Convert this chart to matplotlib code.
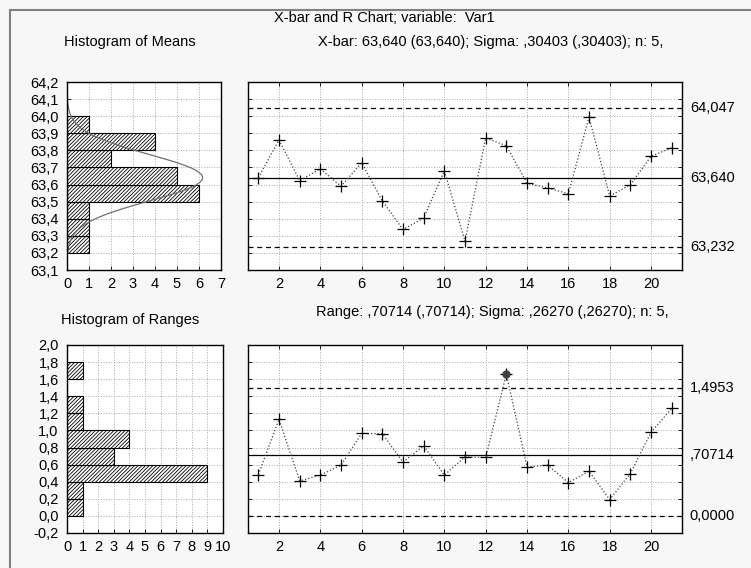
import matplotlib.pyplot as plt
import numpy as np
from matplotlib.lines import Line2D
from matplotlib.ticker import FuncFormatter

plt.rcParams['font.family'] = ['Liberation Sans', 'DejaVu Sans']
plt.rcParams['font.size'] = 10.5
plt.rcParams['hatch.linewidth'] = 0.6

samples = np.arange(1, 22)
means = [63.640, 63.861, 63.623, 63.692, 63.590, 63.727, 63.504, 63.337, 63.404, 63.680, 63.269,
         63.873, 63.827, 63.608, 63.580, 63.546, 63.995, 63.533, 63.598, 63.765, 63.815]
ranges = [0.484, 1.129, 0.410, 0.477, 0.594, 0.965, 0.961, 0.629, 0.820, 0.477, 0.691,
          0.684, 1.660, 0.574, 0.594, 0.390, 0.523, 0.191, 0.496, 0.977, 1.258]

mean_bins = [63.2, 63.3, 63.4, 63.5, 63.6, 63.7, 63.8, 63.9]
mean_counts = [1, 1, 1, 6, 5, 2, 4, 1]
range_bins = [0.0, 0.2, 0.4, 0.6, 0.8, 1.0, 1.2, 1.4, 1.6]
range_counts = [1, 1, 9, 3, 4, 1, 1, 0, 1]

xbar_center, xbar_ucl, xbar_lcl = 63.640, 64.047, 63.232
r_center, r_ucl, r_lcl = 0.70714, 1.4953, 0.0
sigma, n = 0.30403, 5

W, H = 751, 568
fig = plt.figure(figsize=(W / 100, H / 100), dpi=100, facecolor='#f7f7f7')


def box(x0, y0, x1, y1):
    return [x0 / W, 1 - y1 / H, (x1 - x0) / W, (y1 - y0) / H]


comma = FuncFormatter(lambda v, p: ('%.1f' % v).replace('.', ','))
grid_kw = dict(color='#a8a8a8', linestyle=':', linewidth=0.7)


def style(ax):
    ax.set_facecolor('white')
    for s in ax.spines.values():
        s.set_linewidth(1.0)
    ax.grid(True, **grid_kw)
    ax.set_axisbelow(True)
    ax.tick_params(direction='in', length=3, width=0.6, colors='black')
    ax.tick_params(axis='y', pad=6)
    ax.tick_params(axis='x', pad=5)


# histogram of means
ax1 = fig.add_axes(box(67, 82, 221, 270))
style(ax1)
ax1.barh(mean_bins, mean_counts, height=0.1, align='edge', color='white',
         edgecolor='black', hatch='/////////', linewidth=0.8)
yy = np.linspace(63.2, 64.1, 200)
s_mean = sigma / np.sqrt(n)
curve = len(means) * 0.1 * np.exp(-0.5 * ((yy - xbar_center) / s_mean) ** 2) / (s_mean * np.sqrt(2 * np.pi))
ax1.plot(curve, yy, color='#707070', lw=0.9)
ax1.set_xlim(0, 7)
ax1.set_ylim(63.1, 64.2)
ax1.set_xticks(range(0, 8))
ax1.set_yticks(np.round(np.arange(63.1, 64.25, 0.1), 1))
ax1.yaxis.set_major_formatter(comma)

# x-bar chart
ax2 = fig.add_axes(box(248, 82, 682, 270))
style(ax2)
ax2.axhline(xbar_center, color='black', lw=0.9)
ax2.axhline(xbar_ucl, color='black', lw=0.9, ls=(0, (4, 3)))
ax2.axhline(xbar_lcl, color='black', lw=0.9, ls=(0, (4, 3)))
ax2.plot(samples, means, color='#404040', ls=':', lw=0.9, marker='+', ms=8, mew=0.9, mec='black')
ax2.set_xlim(0.5, 21.5)
ax2.set_ylim(63.1, 64.2)
ax2.set_xticks(range(2, 21, 2))
ax2.set_yticks(np.arange(63.1, 64.25, 0.1))
ax2.tick_params(labelleft=False, right=True, top=True)
for v in [xbar_ucl, xbar_center, xbar_lcl]:
    ax2.text(1.018, v, ('%.3f' % v).replace('.', ','), transform=ax2.get_yaxis_transform(),
             va='center', ha='left')

# histogram of ranges
ax3 = fig.add_axes(box(67, 345, 223, 533))
style(ax3)
ax3.barh(range_bins, range_counts, height=0.2, align='edge', color='white',
         edgecolor='black', hatch='/////////', linewidth=0.8)
ax3.set_xlim(0, 10)
ax3.set_ylim(-0.2, 2.0)
ax3.set_xticks(range(0, 11))
ax3.set_yticks(np.round(np.arange(-0.2, 2.05, 0.2), 1))
ax3.yaxis.set_major_formatter(comma)

# range chart
ax4 = fig.add_axes(box(248, 345, 682, 533))
style(ax4)
ax4.axhline(r_center, color='black', lw=0.9)
ax4.axhline(r_ucl, color='black', lw=0.9, ls=(0, (4, 3)))
ax4.axhline(r_lcl, color='black', lw=0.9, ls=(0, (4, 3)))
ax4.plot(samples, ranges, color='#404040', ls=':', lw=0.9, marker='+', ms=8, mew=0.9, mec='black')
out = [i for i, r in enumerate(ranges) if r > r_ucl]
ax4.plot(samples[out], np.array(ranges)[out], 'o', color='#404040', ms=5, zorder=5)
ax4.set_xlim(0.5, 21.5)
ax4.set_ylim(-0.2, 2.0)
ax4.set_xticks(range(2, 21, 2))
ax4.set_yticks(np.arange(-0.2, 2.05, 0.2))
ax4.tick_params(labelleft=False, right=True, top=True)
for v, lab in [(r_ucl, '1,4953'), (r_center, ',70714'), (r_lcl, '0,0000')]:
    ax4.text(1.018, v, lab, transform=ax4.get_yaxis_transform(), va='center', ha='left')

# titles
fig.text(384 / W, 1 - 18 / H, 'X-bar and R Chart; variable:  Var1', ha='center', va='center')
fig.text(130 / W, 1 - 42 / H, 'Histogram of Means', ha='center', va='center')
fig.text(491 / W, 1 - 42 / H, 'X-bar: 63,640 (63,640); Sigma: ,30403 (,30403); n: 5,',
         ha='center', va='center')
fig.text(130 / W, 1 - 320 / H, 'Histogram of Ranges', ha='center', va='center')
fig.text(492 / W, 1 - 312 / H, 'Range: ,70714 (,70714); Sigma: ,26270 (,26270); n: 5,',
         ha='center', va='center')

# window frame
fig.add_artist(Line2D([10 / W, 1], [1 - 10 / H, 1 - 10 / H], transform=fig.transFigure,
                      color='#808080', lw=1.5))
fig.add_artist(Line2D([10 / W, 10 / W], [0, 1 - 10 / H], transform=fig.transFigure,
                      color='#808080', lw=1.5))

fig.savefig('out.png', dpi=100, facecolor=fig.get_facecolor())
